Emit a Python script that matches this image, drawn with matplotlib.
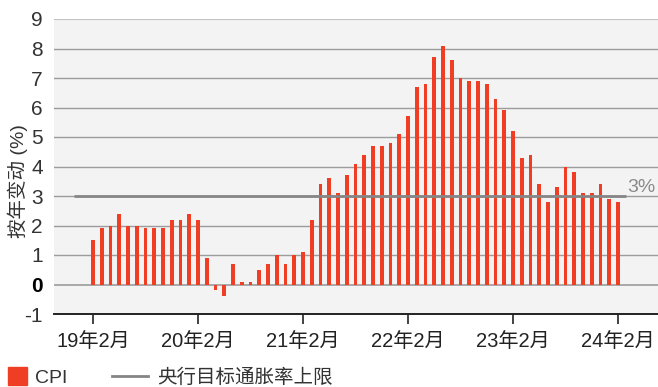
import numpy as np
import matplotlib
matplotlib.use("Agg")
import matplotlib.pyplot as plt
from matplotlib.patches import Rectangle
from matplotlib.lines import Line2D

plt.rcParams['font.family'] = ['Liberation Sans', 'Noto Sans CJK SC']

# Monthly CPI, year-over-year %, Feb 2019 - Feb 2024
cpi = [1.5, 1.9, 2.0, 2.4, 2.0, 2.0, 1.9, 1.9, 1.9, 2.2, 2.2, 2.4,
       2.2, 0.9, -0.2, -0.4, 0.7, 0.1, 0.1, 0.5, 0.7, 1.0, 0.7, 1.0,
       1.1, 2.2, 3.4, 3.6, 3.1, 3.7, 4.1, 4.4, 4.7, 4.7, 4.8, 5.1,
       5.7, 6.7, 6.8, 7.7, 8.1, 7.6, 7.0, 6.9, 6.9, 6.8, 6.3, 5.9,
       5.2, 4.3, 4.4, 3.4, 2.8, 3.3, 4.0, 3.8, 3.1, 3.1, 3.4, 2.9,
       2.8]
target = 3.0
year_labels = ["19年2月", "20年2月", "21年2月", "22年2月", "23年2月", "24年2月"]
y_ticks = [-1, 0, 1, 2, 3, 4, 5, 6, 7, 8, 9]

red = "#F03E25"
months = np.arange(len(cpi))

fig = plt.figure(figsize=(6.58, 3.87), dpi=100)
ax = fig.add_axes([54 / 658, 73 / 387, 604 / 658, 295 / 387])
ax.set_facecolor("#F2F3F2")

ax.bar(months, cpi, width=0.43, color=red, zorder=3)

# horizontal grid
for v in y_ticks[1:]:
    if v == 9:
        ax.axhline(v, color="#C4C4C4", lw=1.6, zorder=1)
    elif v == 0:
        ax.axhline(v, color="#A8A8A8", lw=1.4, zorder=2)
    else:
        ax.axhline(v, color="#9C9C9C", lw=1.0, zorder=1)

# central bank target ceiling
ax.hlines(target, -2.2, 60.9, color="#858585", lw=2.0, zorder=4)
ax.text(61.0, target, f"{target:.0f}%", color="#8A8A8A", fontsize=14,
        ha="left", va="bottom")

ax.set_xlim(-4.46, 64.57)
ax.set_ylim(-1, 9)

ax.set_xticks(months[::12])
ax.set_xticklabels(year_labels, fontsize=14.5, color="#222222")
ax.tick_params(axis="x", length=7, width=1.2, color="#222222", pad=6)
ax.set_yticks(y_ticks)
ax.set_yticklabels([str(v) for v in y_ticks], fontsize=15, color="#333333")
ax.tick_params(axis="y", length=0, pad=8)
for lab in ax.get_yticklabels():
    if lab.get_text() == "0":
        lab.set_fontweight("bold")
        lab.set_color("black")

for s in ["left", "right", "top"]:
    ax.spines[s].set_visible(False)
ax.spines["bottom"].set_color("#222222")
ax.spines["bottom"].set_linewidth(1.4)

fig.text(18 / 658, 1 - 181 / 387, "按年变动 (%)", rotation=90, fontsize=14,
         color="#333333", ha="center", va="center")

# legend along the bottom edge
fig.add_artist(Rectangle((8 / 658, 1 - 385 / 387), 19 / 658, 18 / 387,
                         transform=fig.transFigure, color=red))
fig.text(35 / 658, 1 - 383 / 387, "CPI", fontsize=14, color="#333333",
         va="baseline")
fig.add_artist(Line2D([112 / 658, 148 / 658], [1 - 376 / 387] * 2,
                      transform=fig.transFigure, color="#858585", lw=2.0))
fig.text(157 / 658, 1 - 383 / 387, "央行目标通胀率上限", fontsize=14,
         color="#333333", va="baseline")

fig.savefig("out.png", dpi=100)
